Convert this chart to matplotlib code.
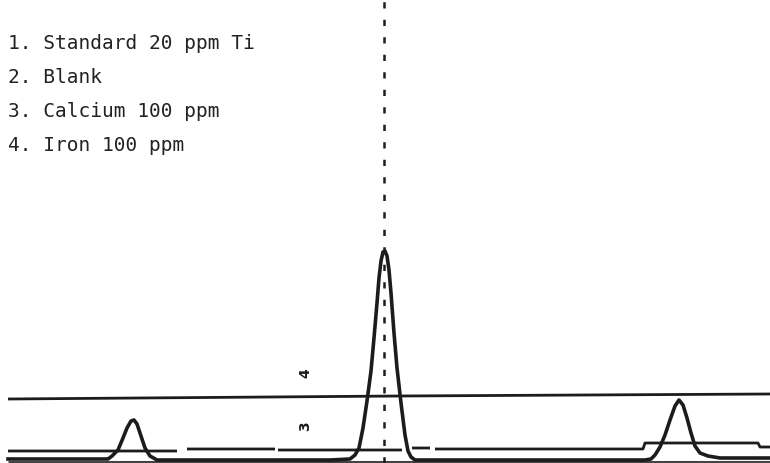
import matplotlib
matplotlib.use('Agg')
import matplotlib.pyplot as plt
import numpy as np

# chart units: x = scan position (0..770), y = signal (0..463, baseline near 3)
H = 463.0

# legend text
labels = ["1. Standard 20 ppm Ti",
          "2. Blank",
          "3. Calcium 100 ppm",
          "4. Iron 100 ppm"]

# 1. standard trace (three peaks)
std_x = [8, 108, 112, 118, 123, 127, 131, 134, 137, 141, 145, 150, 157, 330,
         350, 355, 359, 363, 367, 371, 374, 377, 379, 381, 383, 385, 387,
         389, 391, 394, 397, 401, 405, 408, 411, 415, 645, 651, 655, 660, 665,
         670, 675, 679, 683, 687, 691, 695, 700, 708, 720, 770]
std_y = [4, 4, 7, 13, 25, 35, 42, 43, 39, 27, 15, 7, 3, 3,
         4, 8, 15, 35, 62, 92, 125, 160, 185, 202, 211, 212, 207,
         193, 170, 130, 95, 60, 28, 12, 6, 3, 3, 4, 8, 16, 28,
         43, 57, 63, 58, 45, 30, 17, 10, 7, 5, 5]

# 2. blank, flat along the bottom
blank_x = [8, 770]
blank_y = [1.5, 1.5]

# 3. calcium, flat with small steps (nan = gap in the trace)
ca_x = [8, 177, np.nan, 187, 275, np.nan, 278, 402, np.nan, 412, 430,
        np.nan, 435, 643, 645, 758, 760, 770]
ca_y = [12, 12, np.nan, 14, 14, np.nan, 13, 13, np.nan, 15, 15,
        np.nan, 14, 14, 20, 20, 16, 16]

# 4. iron, flat
fe_x = [8, 400, 770]
fe_y = [64, 67, 69]

peak_x = 384  # Ti line position (dotted marker)

fig = plt.figure(figsize=(7.7, 4.63), dpi=100)
ax = fig.add_axes([0, 0, 1, 1])
ax.set_xlim(0, 770)
ax.set_ylim(0, H)
ax.axis('off')

ink = '#1c1c1c'
ax.plot(fe_x, fe_y, color=ink, lw=2.0, solid_capstyle='butt')
ax.plot(ca_x, ca_y, color=ink, lw=2.0, solid_capstyle='butt')
ax.plot(blank_x, blank_y, color='#444444', lw=2.2, solid_capstyle='butt')
ax.plot(std_x, std_y, color=ink, lw=2.6, solid_joinstyle='round')

ax.axvline(peak_x, color=ink, lw=1.8, linestyle=(0, (2.5, 4.5)))

# trace numbers beside the flat lines
ax.text(305, 90, "4", rotation=90, fontsize=10, fontweight='bold',
        color=ink, ha='center', va='center', family='DejaVu Sans')
ax.text(305, 37, "3", rotation=90, fontsize=10, fontweight='bold',
        color=ink, ha='center', va='center', family='DejaVu Sans')

for i, lab in enumerate(labels):
    ax.text(8, H - 49 - 34 * i, lab, fontsize=14, color='#222222',
            family='DejaVu Sans Mono', ha='left', va='baseline')

plt.savefig('out.png', dpi=100)
